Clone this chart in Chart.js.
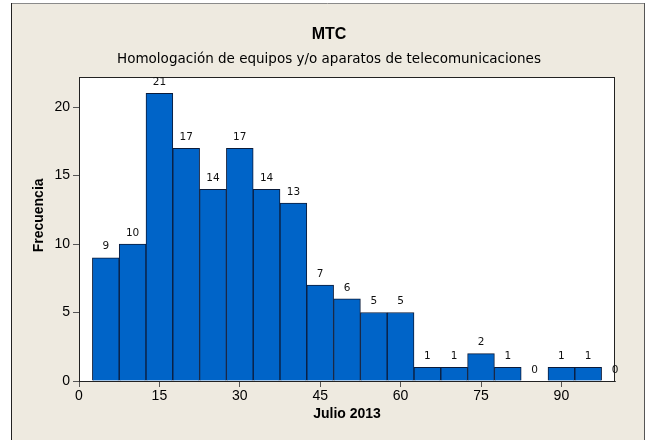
<!DOCTYPE html>
<html><head><meta charset="utf-8">
<style>html,body{margin:0;padding:0;background:#fff;}</style>
</head><body>
<canvas id="c" width="647" height="440"></canvas>
<script src="https://cdn.jsdelivr.net/npm/chart.js@4/dist/chart.umd.min.js"></script>
<script>
const binCenters = [5,10,15,20,25,30,35,40,45,50,55,60,65,70,75,80,85,90,95,100];
const frequencies = [9,10,21,17,14,17,14,13,7,6,5,5,1,1,2,1,0,1,1,0];
const xTickValues = [0,15,30,45,60,75,90];
const yTickValues = [0,5,10,15,20];
const titleText = 'MTC';
const subtitleText = 'Homologación de equipos y/o aparatos de telecomunicaciones';
const xTitle = 'Julio 2013';
const yTitle = 'Frecuencia';

const FONT = "'Liberation Sans', Arial, sans-serif";
const FONT2 = "'DejaVu Sans', sans-serif";

const bgPlugin = {
  id: 'bg',
  beforeDraw(chart) {
    const ctx = chart.ctx, a = chart.chartArea;
    ctx.save();
    ctx.fillStyle = '#ffffff';
    ctx.fillRect(0, 0, chart.width, chart.height);
    ctx.fillStyle = '#EEEAE0';
    ctx.fillRect(11, 3, 633, 437);
    ctx.lineWidth = 1;
    ctx.strokeStyle = '#8a8a8a';
    ctx.beginPath(); ctx.moveTo(11, 3.5); ctx.lineTo(644, 3.5); ctx.stroke();
    ctx.strokeStyle = '#222';
    ctx.beginPath(); ctx.moveTo(11.5, 3); ctx.lineTo(11.5, 440); ctx.stroke();
    ctx.strokeStyle = '#555';
    ctx.beginPath(); ctx.moveTo(644.5, 3); ctx.lineTo(644.5, 440); ctx.stroke();
    ctx.fillStyle = '#ffffff';
    ctx.fillRect(a.left, a.top, a.right - a.left, a.bottom - a.top);
    ctx.restore();
  },
  afterDatasetsDraw(chart) {
    const ctx = chart.ctx, a = chart.chartArea;
    ctx.save();
    ctx.strokeStyle = '#222';
    ctx.lineWidth = 1;
    ctx.strokeRect(a.left + 0.5, a.top + 0.5, a.right - a.left - 1, a.bottom - a.top);
    const meta = chart.getDatasetMeta(0);
    ctx.fillStyle = '#111';
    ctx.font = "10.5px " + FONT2;
    ctx.textAlign = 'center';
    ctx.textBaseline = 'middle';
    meta.data.forEach((el, i) => {
      ctx.fillText(String(frequencies[i]), el.x, el.y - 11);
    });
    ctx.restore();
  }
};

new Chart(document.getElementById('c'), {
  type: 'bar',
  data: {
    datasets: [{
      data: binCenters.map((x, i) => ({x: x, y: frequencies[i]})),
      backgroundColor: '#0064C8',
      borderColor: '#0B1B3A',
      borderWidth: 1,
      barPercentage: 1,
      categoryPercentage: 1
    }]
  },
  options: {
    responsive: false,
    devicePixelRatio: 1,
    animation: false,
    layout: { padding: { left: 11, right: 0, top: 0, bottom: 0 } },
    plugins: {
      legend: { display: false },
      tooltip: { enabled: false },
      title: {
        display: true, text: titleText, color: '#000',
        font: { family: FONT, size: 16, weight: 'bold' },
        padding: { top: 25, bottom: 0 }
      },
      subtitle: {
        display: true, text: subtitleText, color: '#000',
        font: { family: FONT2, size: 13.5 },
        padding: { top: 7, bottom: 9.6 }
      }
    },
    scales: {
      x: {
        type: 'linear', min: 0, max: 100, offset: false,
        afterBuildTicks(s) { s.ticks = xTickValues.map(v => ({value: v})); },
        afterFit(s) { s.height = 59; },
        ticks: { color: '#000', font: { family: FONT, size: 14 }, padding: 1, maxRotation: 0 },
        grid: { display: true, offset: false, drawOnChartArea: false, drawTicks: true, tickLength: 6, color: '#555' },
        border: { display: true, color: '#555', width: 1 },
        title: { display: true, text: xTitle, color: '#000', font: { family: FONT, size: 14, weight: 'bold' }, padding: { top: 0, bottom: 17 } }
      },
      y: {
        min: 0, max: 22.2,
        afterBuildTicks(s) { s.ticks = yTickValues.map(v => ({value: v})); },
        afterFit(s) { s.width = 68; },
        ticks: { color: '#000', font: { family: FONT, size: 14 }, padding: 3 },
        grid: { display: true, drawOnChartArea: false, drawTicks: true, tickLength: 6, color: '#555' },
        border: { display: true, color: '#555', width: 1 },
        title: { display: true, text: '       ' + yTitle, color: '#000', font: { family: FONT, size: 14, weight: 'bold' }, padding: { top: 20, bottom: 0 } }
      },
      spacer: {
        type: 'linear', position: 'right', display: true,
        afterFit(s) { s.width = 32; },
        ticks: { display: false },
        grid: { display: false, drawTicks: false },
        border: { display: false },
        title: { display: false }
      }
    }
  },
  plugins: [bgPlugin]
});
</script>
</body></html>
